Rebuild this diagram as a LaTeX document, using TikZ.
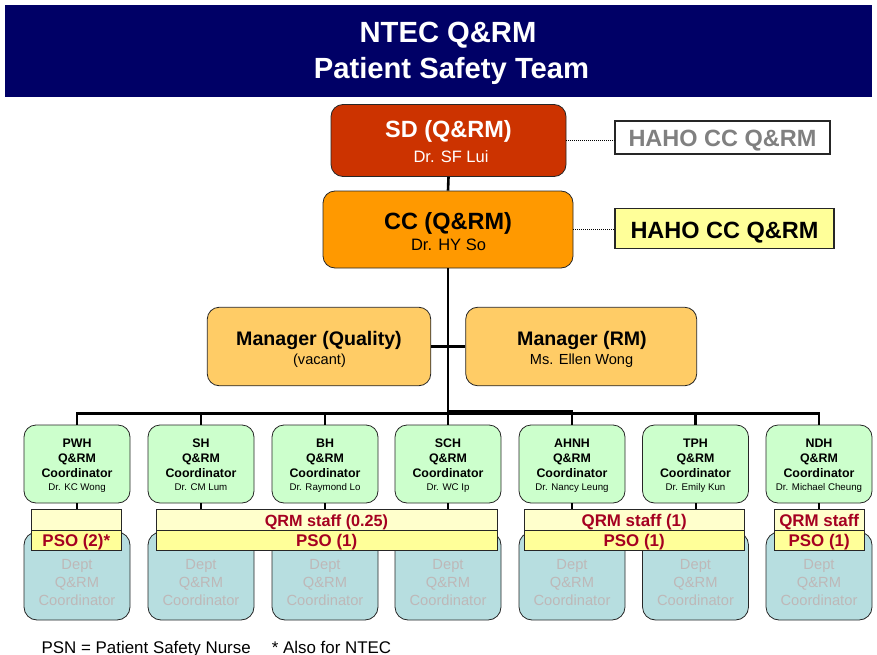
\documentclass[tikz,border=0pt]{standalone}
\usepackage{fontspec}
\setmainfont{Liberation Sans}
\definecolor{navy}{HTML}{000066}
\definecolor{sdred}{HTML}{CC3300}
\definecolor{ccor}{HTML}{FF9900}
\definecolor{mgr}{HTML}{FFCC66}
\definecolor{coordg}{HTML}{CCFFCC}
\definecolor{deptc}{HTML}{B7DEE0}
\definecolor{ylA}{HTML}{FFFFCC}
\definecolor{ylB}{HTML}{FFFF99}
\definecolor{dred}{HTML}{A50021}
\definecolor{dtext}{RGB}{190,184,184}
\definecolor{hgrey}{HTML}{808080}
\newcommand\myfs[1]{\fontsize{#1}{#1}\selectfont}
\begin{document}
\begin{tikzpicture}[x=1pt,y=-1pt,
  box/.style={draw=black!85, line width=0.8pt, rounded corners=12pt, inner sep=0pt},
  sq/.style={draw=black!85, line width=0.8pt, inner sep=0pt},
  sz/.style 2 args={minimum width=#1pt, minimum height=#2pt},
  txt/.style={anchor=base, inner sep=0pt},
  conn/.style={line width=2.6pt, black},
  drop/.style={line width=2pt, black},
  dots/.style={line width=1pt, black, dash pattern=on 1pt off 1pt}]
\useasboundingbox (0,0) rectangle (877,655);
\coordinate (busy) at (0,413.3);
\coordinate (busz) at (0,410.8);

% title
\node[inner sep=0pt, fill=navy, sz={867}{92}] (title) at (438.5,51) {};
\node[txt, text=white, font=\myfs{29.2}\bfseries] (t1) at (448,42.5) {NTEC Q\&RM};
\node[txt, text=white, font=\myfs{29.2}\bfseries] (t2) at (451.5,79) {Patient Safety Team};

% SD and CC
\node[box, fill=sdred, sz={235}{72}] (sd) at (448.5,140.5) {};
\node[txt, text=white, font=\myfs{23.5}\bfseries] (sdt) at (448.5,137.6) {SD (Q\&RM)};
\node[txt, text=white, font=\myfs{16.5}] (sdn) at (451,162.7) {Dr. SF Lui};
\node[box, fill=ccor, sz={250}{77}] (cc) at (448,229.5) {};
\node[txt, font=\myfs{23.5}\bfseries] (cct) at (448,229.3) {CC (Q\&RM)};
\node[txt, font=\myfs{16.5}] (ccn) at (448.5,250.7) {Dr. HY So};

% HAHO
\node[sq, fill=white, line width=1.1pt, sz={215}{33}] (hg) at (722.5,137.5) {};
\node[txt, text=hgrey, font=\myfs{23.5}\bfseries] (hgt) at (722.5,146.7) {HAHO CC Q\&RM};
\node[sq, fill=ylB, line width=1.1pt, sz={219}{40}] (hy) at (724.5,228.4) {};
\node[txt, font=\myfs{23.5}\bfseries] (hyt) at (724.5,238.3) {HAHO CC Q\&RM};
\draw[dots] (sd.east) -- (sd.east -| hg.west);
\draw[dots] (cc.east) -- (cc.east -| hy.west);

% managers
\node[box, fill=mgr, sz={223.5}{78.5}] (mq) at (319,346.5) {};
\node[txt, font=\myfs{19.6}\bfseries] (mqt) at (319,345.7) {Manager (Quality)};
\node[txt, font=\myfs{14.6}] (mqn) at (319.5,364) {(vacant)};
\node[box, fill=mgr, sz={231}{78.5}] (mr) at (581.2,346.5) {};
\node[txt, font=\myfs{19.6}\bfseries] (mrt) at (582,345.7) {Manager (RM)};
\node[txt, font=\myfs{14.6}] (mrn) at (581.5,364.3) {Ms. Ellen Wong};

% coordinators and dept boxes
\foreach \i/\x/\h/\p in {1/77/PWH/Dr. KC Wong, 2/201/SH/Dr. CM Lum, 3/325/BH/Dr. Raymond Lo, 4/448/SCH/Dr. WC Ip, 5/572/AHNH/Dr. Nancy Leung, 6/695.5/TPH/Dr. Emily Kun, 7/819/NDH/Dr. Michael Cheung}{
  \node[box, fill=coordg, sz={106}{78}] (c\i) at (\x,464) {};
  \node[txt, font=\myfs{12.4}\bfseries] (c\i a) at (\x,447.7) {\h};
  \node[txt, font=\myfs{12.4}\bfseries] (c\i b) at (\x,462.7) {Q\&RM};
  \node[txt, font=\myfs{12.4}\bfseries] (c\i c) at (\x,477.3) {Coordinator};
  \node[txt, font=\myfs{9.7}] (c\i d) at (\x,490) {\p};
  \node[box, fill=deptc, rounded corners=13pt, sz={106}{88}] (d\i) at (\x,576) {};
  \node[txt, text=dtext, font=\myfs{14.7}] (d\i a) at (\x,569) {Dept};
  \node[txt, text=dtext, font=\myfs{14.7}] (d\i b) at (\x,587.3) {Q\&RM};
  \node[txt, text=dtext, font=\myfs{14.7}] (d\i c) at (\x,605) {Coordinator};
}

% yellow staff boxes
\node[sq, fill=ylA, sz={90.7}{20.7}] (q1) at (76.3,519.6) {};
\node[sq, fill=ylB, sz={90.7}{20.7}] (p1) at (76.3,540.3) {};
\node[txt, text=dred, font=\myfs{16.9}\bfseries] (p1t) at (76.3,546.7) {PSO (2)*};

\node[sq, fill=ylA, sz={340.5}{20.7}] (q2) at (326.8,519.6) {};
\node[sq, fill=ylB, sz={340.5}{20.7}] (p2) at (326.8,540.3) {};
\node[txt, text=dred, font=\myfs{16.2}\bfseries] (q2t) at (326.5,526) {QRM staff (0.25)};
\node[txt, text=dred, font=\myfs{16.9}\bfseries] (p2t) at (326.7,546.7) {PSO (1)};

\node[sq, fill=ylA, sz={219.5}{20.7}] (q3) at (634.2,519.6) {};
\node[sq, fill=ylB, sz={219.5}{20.7}] (p3) at (634.2,540.3) {};
\node[txt, text=dred, font=\myfs{16.9}\bfseries] (q3t) at (634.2,526) {QRM staff (1)};
\node[txt, text=dred, font=\myfs{16.9}\bfseries] (p3t) at (634.2,546.7) {PSO (1)};

\node[sq, fill=ylA, sz={89.5}{20.7}] (q4) at (819.2,519.6) {};
\node[sq, fill=ylB, sz={89.5}{20.7}] (p4) at (819.2,540.3) {};
\node[txt, text=dred, font=\myfs{16.9}\bfseries] (q4t) at (819.2,526) {QRM staff};
\node[txt, text=dred, font=\myfs{16.9}\bfseries] (p4t) at (819.2,546.7) {PSO (1)};

% connectors
\draw[conn] (sd.south) -- (cc.north);
\draw[conn] (cc.south) -- (cc.south |- busy);
\draw[conn] (mq.east) -- (mr.west);
\draw[conn] (c1.north) |- (c7.north |- busy) -- (c7.north);
\foreach \i in {2,3,4,5,6}{\draw[conn] (c\i.north) -- (c\i.north |- busy);}
\draw[conn] (cc.south |- busz) -| (c5.north);
\draw[drop] (c1.south) -- (c1.south |- q1.north);
\foreach \i in {2,3,4}{\draw[drop] (c\i.south) -- (c\i.south |- q2.north);}
\foreach \i in {5,6}{\draw[drop] (c\i.south) -- (c\i.south |- q3.north);}
\draw[drop] (c7.south) -- (c7.south |- q4.north);

% footer
\node[txt, anchor=base west, font=\myfs{16.9}] (f1) at (41.5,653) {PSN = Patient Safety Nurse};
\node[txt, anchor=base west, font=\myfs{16.9}] (f2) at (271.7,653) {* Also for NTEC};
\end{tikzpicture}
\end{document}
